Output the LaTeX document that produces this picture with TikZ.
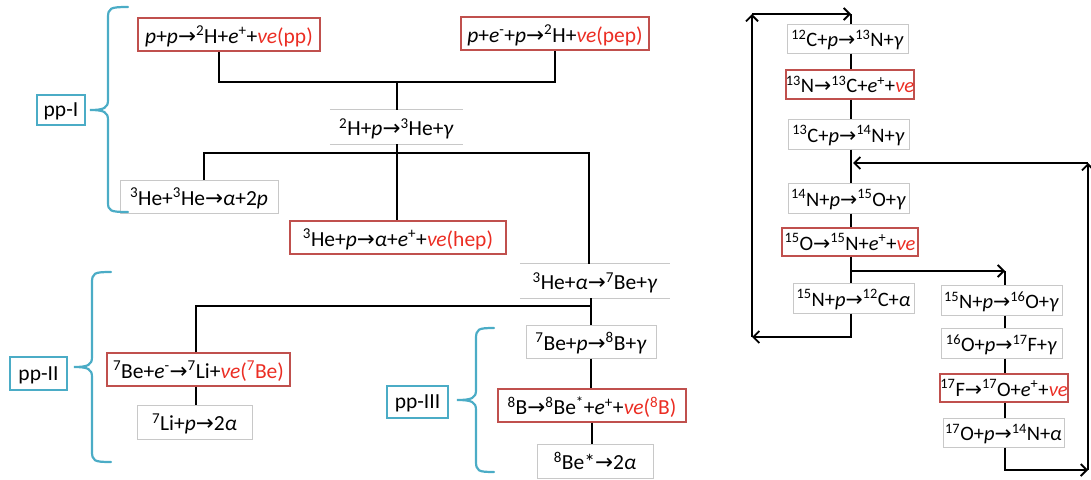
\documentclass[tikz,border=0pt]{standalone}
\usepackage{fontspec}
\setmainfont{Carlito}
\newfontfamily\arrfont{DejaVu Sans}[Scale=1.0]
\usetikzlibrary{arrows.meta}
\definecolor{boxred}{RGB}{192,80,77}
\definecolor{nured}{RGB}{235,45,35}
\definecolor{teal2}{RGB}{75,172,198}
\definecolor{gbord}{RGB}{200,200,200}
\newcommand{\ra}{{\arrfont →}}
\newcommand{\su}[1]{\textsuperscript{#1}}
\newcommand{\nue}{\textcolor{nured}{\textit{νe}}}
\newcommand{\rd}[1]{\textcolor{nured}{#1}}
\tikzset{
  bx/.style 2 args={minimum width=#1pt, minimum height=#2pt, inner sep=0pt, text depth=0pt},
  redb/.style={draw=boxred, line width=1.4pt},
  grayb/.style={draw=gbord, line width=1pt},
  nob/.style={},
  lab/.style={draw=teal2, line width=1.6pt},
  lft/.style={font=\fontsize{21.5}{24}\selectfont},
  cno/.style={font=\fontsize{20.5}{23}\selectfont},
  conn/.style={line width=2pt, black},
  arr/.style={line width=2pt, black, -{Straight Barb[length=6pt,width=12pt,line width=1.8pt]}},
  brace/.style={draw=teal2, line width=2.2pt, line cap=round}
}
\begin{document}
\begin{tikzpicture}[x=1pt,y=-1pt]
\useasboundingbox (0,0) rectangle (1091,479);
% ---------------- pp chain ----------------
\node[lft,redb,bx={182}{33}] (pp) at (229,34.5) {\textit{p}+\textit{p}\ra\su{2}H+\textit{e}\su{+}+\nue\rd{(pp)}};
\node[lft,redb,bx={188}{33}] (pep) at (555,33.5) {\textit{p}+\textit{e}\su{-}+\textit{p}\ra\su{2}H+\nue\rd{(pep)}};
\node[lft,nob,bx={133}{34}] (d2H) at (396.5,127) {\su{2}H+\textit{p}\ra\su{3}He+\textit{γ}};
\draw[gbord,line width=1pt] (d2H.north west) -- (d2H.north east) (d2H.south west) -- (d2H.south east);
\node[lft,grayb,bx={158}{33}] (he3he3) at (199,196.5) {\su{3}He+\su{3}He\ra\textit{α}+2\textit{p}};
\node[lft,redb,bx={216}{33}] (hep) at (398,237.5) {\su{3}He+\textit{p}\ra\textit{α}+\textit{e}\su{+}+\nue\rd{(hep)}};
\node[lft,nob,bx={150}{34}] (he3a) at (595,281) {\su{3}He+\textit{α}\ra\su{7}Be+\textit{γ}};
\draw[gbord,line width=1pt] (he3a.north west) -- (he3a.north east) (he3a.south west) -- (he3a.south east);
\node[lft,redb,bx={183}{33}] (be7e) at (198.5,369.5) {\su{7}Be+\textit{e}\su{-}\ra\su{7}Li+\nue\rd{(\su{7}Be)}};
\node[lft,grayb,bx={115}{34}] (li7) at (194.5,422) {\su{7}Li+\textit{p}\ra2\textit{α}\hspace{14pt}};
\node[lft,grayb,bx={130}{33}] (be7p) at (591,341.5) {\su{7}Be+\textit{p}\ra\su{8}B+\textit{γ}};
\node[lft,redb,bx={188}{33}] (b8) at (592,405.5) {\su{8}B\ra\su{8}Be\su{*}+\textit{e}\su{+}+\nue\rd{(\su{8}B)}};
\node[lft,grayb,bx={116}{34}] (be8) at (595,461) {\su{8}Be*\ra2\textit{α}\hspace{28pt}};
% labels
\node[lft,lab,bx={48}{30}] (ppI) at (61,110) {pp-I};
\node[lft,lab,bx={57}{33}] (ppII) at (38.5,373.5) {pp-II};
\node[lft,lab,bx={61}{32}] (ppIII) at (417.5,402) {pp-III};
% braces
\draw[brace] (128,7) .. controls (110,7) and (108,8) .. (108,18) -- (108,100) .. controls (108,108) and (104,110) .. (90,110) .. controls (104,110) and (108,112) .. (108,120) -- (108,202) .. controls (108,211) and (110,212) .. (128,212);
\draw[brace] (111,272) .. controls (94,272) and (92,273) .. (92,283) -- (92,357) .. controls (92,365) and (88,367) .. (74,367) .. controls (88,367) and (92,369) .. (92,377) -- (92,451) .. controls (92,461) and (94,462) .. (111,462);
\draw[brace] (494,328) .. controls (478,328) and (476,329) .. (476,339) -- (476,390) .. controls (476,398) and (472,400) .. (457,400) .. controls (472,400) and (476,402) .. (476,410) -- (476,461) .. controls (476,471) and (478,472) .. (494,472);
% connectors
\draw[conn] ([xshift=-10pt]pp.south) -- ++(0,30) -| (pep.south);
\draw[conn] (d2H.north) -- ++(0,-29);
\draw[conn] (d2H.south) -- (d2H.south |- hep.north);
\draw[conn] ([xshift=5pt]he3he3.north) -- ++(0,-27) -| ([xshift=-6pt]he3a.north);
\draw[conn] (he3a.south -| be7p.north) -- (be7p.north);
\draw[conn] ([xshift=-2.5pt]be7e.north) -- ++(0,-46) -| (he3a.south -| be7p.north);
\draw[conn] ([xshift=-2.5pt]be7e.south) -- ([xshift=1.5pt]li7.north);
\draw[conn] (be7p.south) -- (be7p.south |- b8.north);
\draw[conn] (b8.south) -- (b8.south |- be8.north);
% ---------------- CNO ----------------
\node[cno,grayb,bx={121}{29}] (c12) at (847.5,38.5) {\su{12}C+\textit{p}\ra\su{13}N+\textit{γ}};
\node[cno,redb,bx={128}{29}] (n13) at (850,84.5) {\su{13}N\ra\su{13}C+\textit{e}\su{+}+\nue};
\node[cno,grayb,bx={121}{30}] (c13) at (848.5,134) {\su{13}C+\textit{p}\ra\su{14}N+\textit{γ}};
\node[cno,grayb,bx={121}{30}] (n14) at (848.5,198) {\su{14}N+\textit{p}\ra\su{15}O+\textit{γ}};
\node[cno,redb,bx={136}{28}] (o15) at (850,242) {\su{15}O\ra\su{15}N+\textit{e}\su{+}+\nue};
\node[cno,grayb,bx={121}{30}] (n15a) at (853.5,298) {\su{15}N+\textit{p}\ra\su{12}C+\textit{α}};
\node[cno,grayb,bx={121}{30}] (n15b) at (1001.5,300) {\su{15}N+\textit{p}\ra\su{16}O+\textit{γ}};
\node[cno,grayb,bx={121}{30}] (o16) at (1001.5,343) {\su{16}O+\textit{p}\ra\su{17}F+\textit{γ}};
\node[cno,redb,bx={128}{28}] (f17) at (1004,388) {\su{17}F\ra\su{17}O+\textit{e}\su{+}+\nue};
\node[cno,grayb,bx={121}{29}] (o17) at (1003.5,432.5) {\su{17}O+\textit{p}\ra\su{14}N+\textit{α}};
\coordinate (ax) at (851,0);
\coordinate (ax2) at (1005,0);
\coordinate (ctop) at (851,14);
\coordinate (ltop) at (752,14);
\coordinate (lb) at (752,337);
\coordinate (jn) at (853,163);
\coordinate (rtop) at (1088,163);
\coordinate (rb) at (1088,470);
\coordinate (br) at (851,271);
\coordinate (bc) at (1005,271);
\draw[conn] (ctop) -- (c12.north -| ax);
\draw[conn] (c12.south -| ax) -- (n13.north -| ax);
\draw[conn] (n13.south -| ax) -- (c13.north -| ax);
\draw[conn] (c13.south -| ax) -- (n14.north -| ax);
\draw[conn] (n14.south -| ax) -- (o15.north -| ax);
\draw[conn] (o15.south -| ax) -- (n15a.north -| ax);
\draw[arr] (br) -- (bc);
\draw[conn] (bc) -- (n15b.north -| ax2);
\draw[conn] (n15b.south -| ax2) -- (o16.north -| ax2);
\draw[conn] (o16.south -| ax2) -- (f17.north -| ax2);
\draw[conn] (f17.south -| ax2) -- (o17.north -| ax2);
\draw[arr] (o17.south -| ax2) |- (rb);
\draw[arr] (rb) -- (rtop);
\draw[arr] (rtop) -- (jn);
\draw[arr] (n15a.south -| ax) |- (lb);
\draw[arr] (lb) -- (ltop);
\draw[arr] (ltop) -- (ctop);
\end{tikzpicture}
\end{document}
